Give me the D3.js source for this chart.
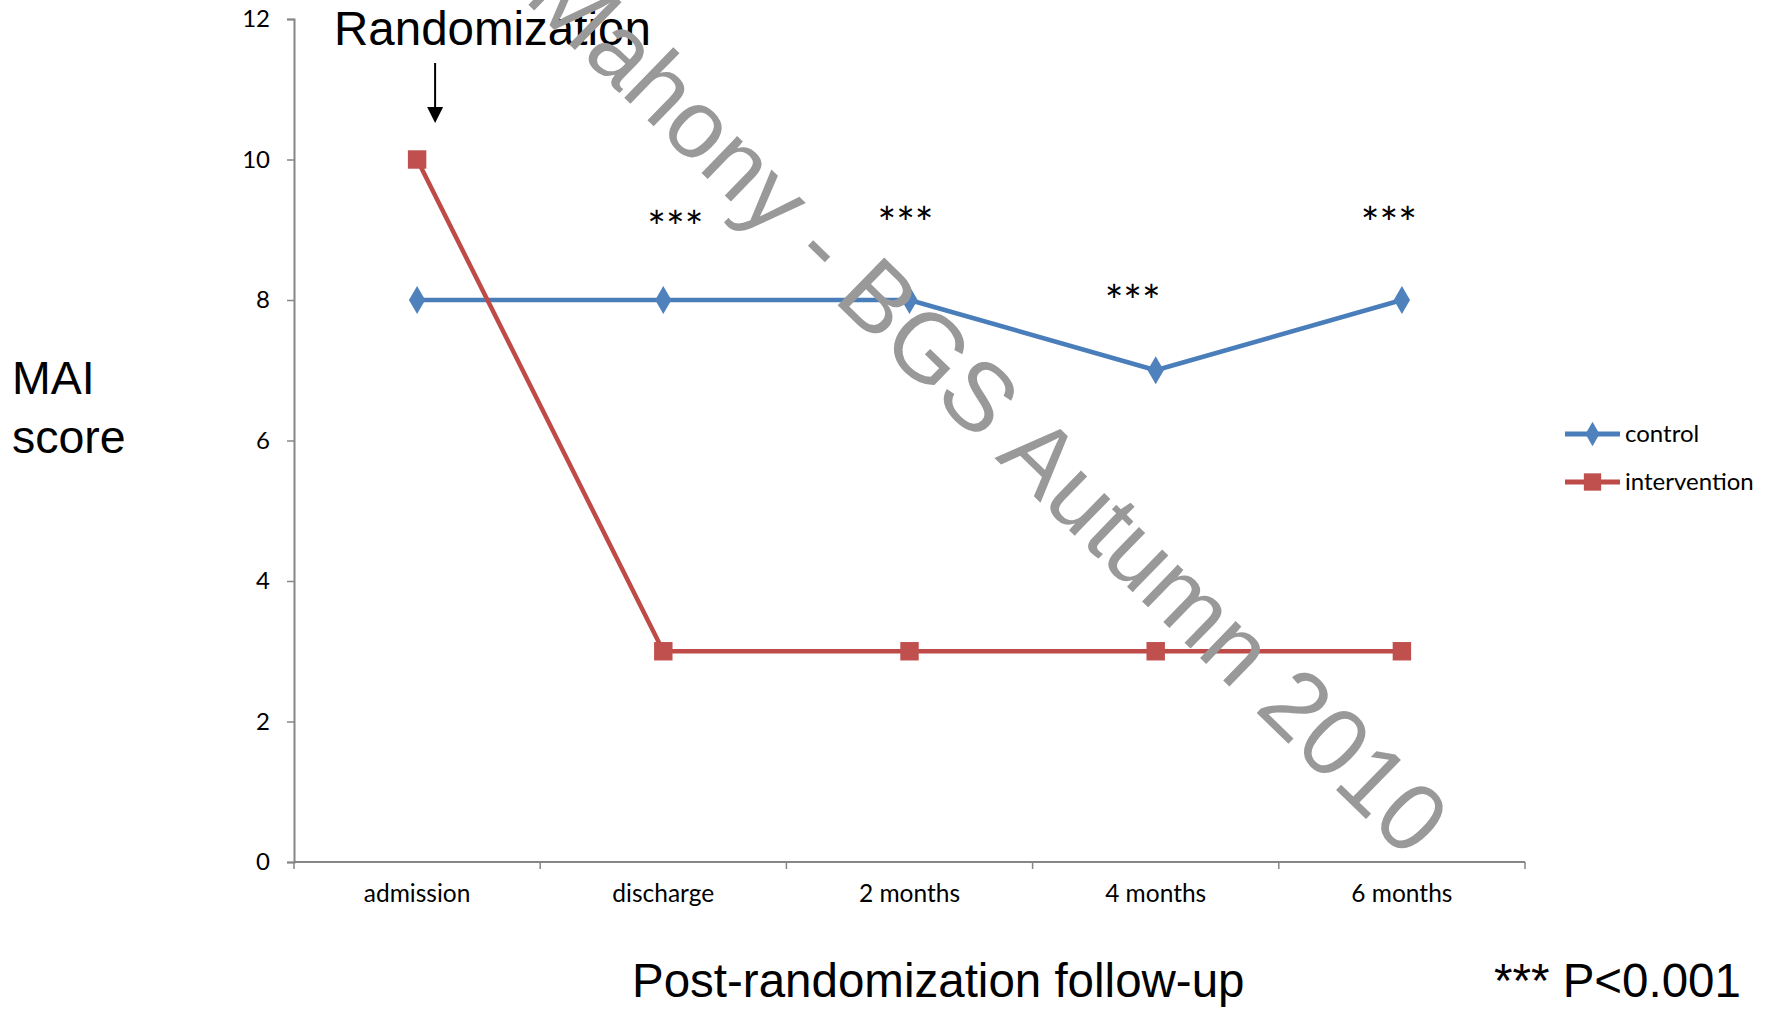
<!DOCTYPE html>
<html>
<head>
<meta charset="utf-8">
<script src="https://cdn.jsdelivr.net/npm/d3@7"></script>
<style>
  html, body { margin: 0; padding: 0; background: #fff; }
  svg { display: block; }
</style>
</head>
<body>
<script>
// MAI score over follow-up, control vs intervention
const categories = ["admission", "discharge", "2 months", "4 months", "6 months"];
const controlValues = [8, 8, 8, 7, 8];
const interventionValues = [10, 3, 3, 3, 3];
const yTicks = [0, 2, 4, 6, 8, 10, 12];
const seriesNames = ["control", "intervention"];
// significance markers: category, value height, shift within the band
const starMarks = [
  { cat: "discharge", value: 9.18, shift: 12 },
  { cat: "2 months", value: 9.24, shift: -4 },
  { cat: "4 months", value: 8.13, shift: -23 },
  { cat: "6 months", value: 9.24, shift: -13 }
];

const W = 1775, H = 1009;
const margin = { left: 294, right: 250, top: 19, bottom: 147 };
const colors = { control: "#4a7ebb", intervention: "#be4b48" };
const markerColors = { control: "#4f81bd", intervention: "#c0504d" };

const svg = d3.select("body").append("svg").attr("width", W).attr("height", H);

const x = d3.scaleBand().domain(categories).range([margin.left, W - margin.right]);
const y = d3.scaleLinear().domain([0, 12]).range([H - margin.bottom, margin.top]);
const cx = c => x(c) + x.bandwidth() / 2;

const tickFont = "Lato, 'Open Sans', sans-serif";
const bigFont = "'Liberation Sans', Arial, sans-serif";

// y axis
const yAxis = svg.append("g")
  .attr("transform", `translate(${margin.left},0)`)
  .call(d3.axisLeft(y).tickValues(yTicks).tickSize(7).tickPadding(17));
yAxis.select(".domain").attr("stroke", "#868686").attr("stroke-width", 2);
yAxis.selectAll(".tick line").attr("stroke", "#868686").attr("stroke-width", 1.5);
yAxis.selectAll(".tick text").attr("font-family", tickFont).attr("font-size", 24).attr("fill", "#000");

// x axis with ticks on band boundaries
const xAxisG = svg.append("g").attr("transform", `translate(0,${y(0)})`);
xAxisG.append("line")
  .attr("x1", margin.left).attr("x2", W - margin.right)
  .attr("stroke", "#868686").attr("stroke-width", 2);
const bounds = categories.map(c => x(c)).concat([x(categories[categories.length - 1]) + x.bandwidth()]);
xAxisG.selectAll("line.tk").data(bounds).join("line").attr("class", "tk")
  .attr("x1", d => d).attr("x2", d => d).attr("y1", 0).attr("y2", 7)
  .attr("stroke", "#868686").attr("stroke-width", 1.5);
xAxisG.selectAll("text").data(categories).join("text")
  .attr("x", d => cx(d)).attr("y", 40)
  .attr("text-anchor", "middle")
  .attr("font-family", tickFont).attr("font-size", 24.5).attr("fill", "#000")
  .text(d => d);

// series
const series = [
  { name: "control", values: controlValues, shape: d3.symbolDiamond, size: 230 },
  { name: "intervention", values: interventionValues, shape: d3.symbolSquare, size: 340 }
];
const line = d3.line().x(d => cx(d.cat)).y(d => y(d.v));
series.forEach(s => {
  const pts = s.values.map((v, i) => ({ cat: categories[i], v }));
  svg.append("path").datum(pts)
    .attr("d", line).attr("fill", "none")
    .attr("stroke", colors[s.name]).attr("stroke-width", 4.5)
    .attr("stroke-linejoin", "round");
  svg.selectAll(null).data(pts).join("path")
    .attr("transform", d => `translate(${cx(d.cat)},${y(d.v)})`)
    .attr("d", d3.symbol().type(s.shape).size(s.size))
    .attr("fill", markerColors[s.name]);
});

// significance stars
svg.selectAll("text.star").data(starMarks).join("text").attr("class", "star")
  .attr("x", d => cx(d.cat) + d.shift).attr("y", d => y(d.value) + 26)
  .attr("text-anchor", "middle")
  .attr("font-family", tickFont).attr("font-size", 44).attr("fill", "#000")
  .text("***");

// legend
const legend = svg.append("g").attr("transform", "translate(1565,434)");
series.forEach((s, i) => {
  const g = legend.append("g").attr("transform", `translate(0,${i * 48})`);
  g.append("line").attr("x1", 0).attr("x2", 55)
    .attr("stroke", colors[s.name]).attr("stroke-width", 5);
  g.append("path").attr("transform", "translate(27.5,0)")
    .attr("d", d3.symbol().type(s.shape).size(s.name === "control" ? 170 : 300))
    .attr("fill", markerColors[s.name]);
  g.append("text").attr("x", 60).attr("y", 0).attr("dy", "0.35em")
    .attr("font-family", tickFont).attr("font-size", 24).attr("fill", "#000")
    .text(s.name);
});

// axis titles and notes
svg.append("text").attr("x", 12).attr("y", 394)
  .attr("font-family", bigFont).attr("font-size", 46.5).text("MAI");
svg.append("text").attr("x", 12).attr("y", 453)
  .attr("font-family", bigFont).attr("font-size", 46.5).text("score");
svg.append("text").attr("x", 632).attr("y", 997)
  .attr("font-family", bigFont).attr("font-size", 47.5).text("Post-randomization follow-up");
svg.append("text").attr("x", 1494).attr("y", 997)
  .attr("font-family", bigFont).attr("font-size", 47.5).text("*** P<0.001");

// randomization marker
svg.append("text").attr("x", 334).attr("y", 45)
  .attr("font-family", bigFont).attr("font-size", 47.5).text("Randomization");
const ax = cx("admission") + 18;
svg.append("line").attr("x1", ax).attr("x2", ax).attr("y1", 63).attr("y2", 110)
  .attr("stroke", "#000").attr("stroke-width", 2);
svg.append("path")
  .attr("d", `M${ax - 8},107 L${ax + 8},107 L${ax},123 Z`).attr("fill", "#000");

// diagonal watermark
svg.append("text")
  .attr("transform", "translate(1408,860) rotate(44.2)")
  .attr("text-anchor", "end")
  .attr("font-family", bigFont).attr("font-size", 97)
  .attr("fill", "#999")
  .text("Mahony - BGS Autumn 2010");
</script>
</body>
</html>
